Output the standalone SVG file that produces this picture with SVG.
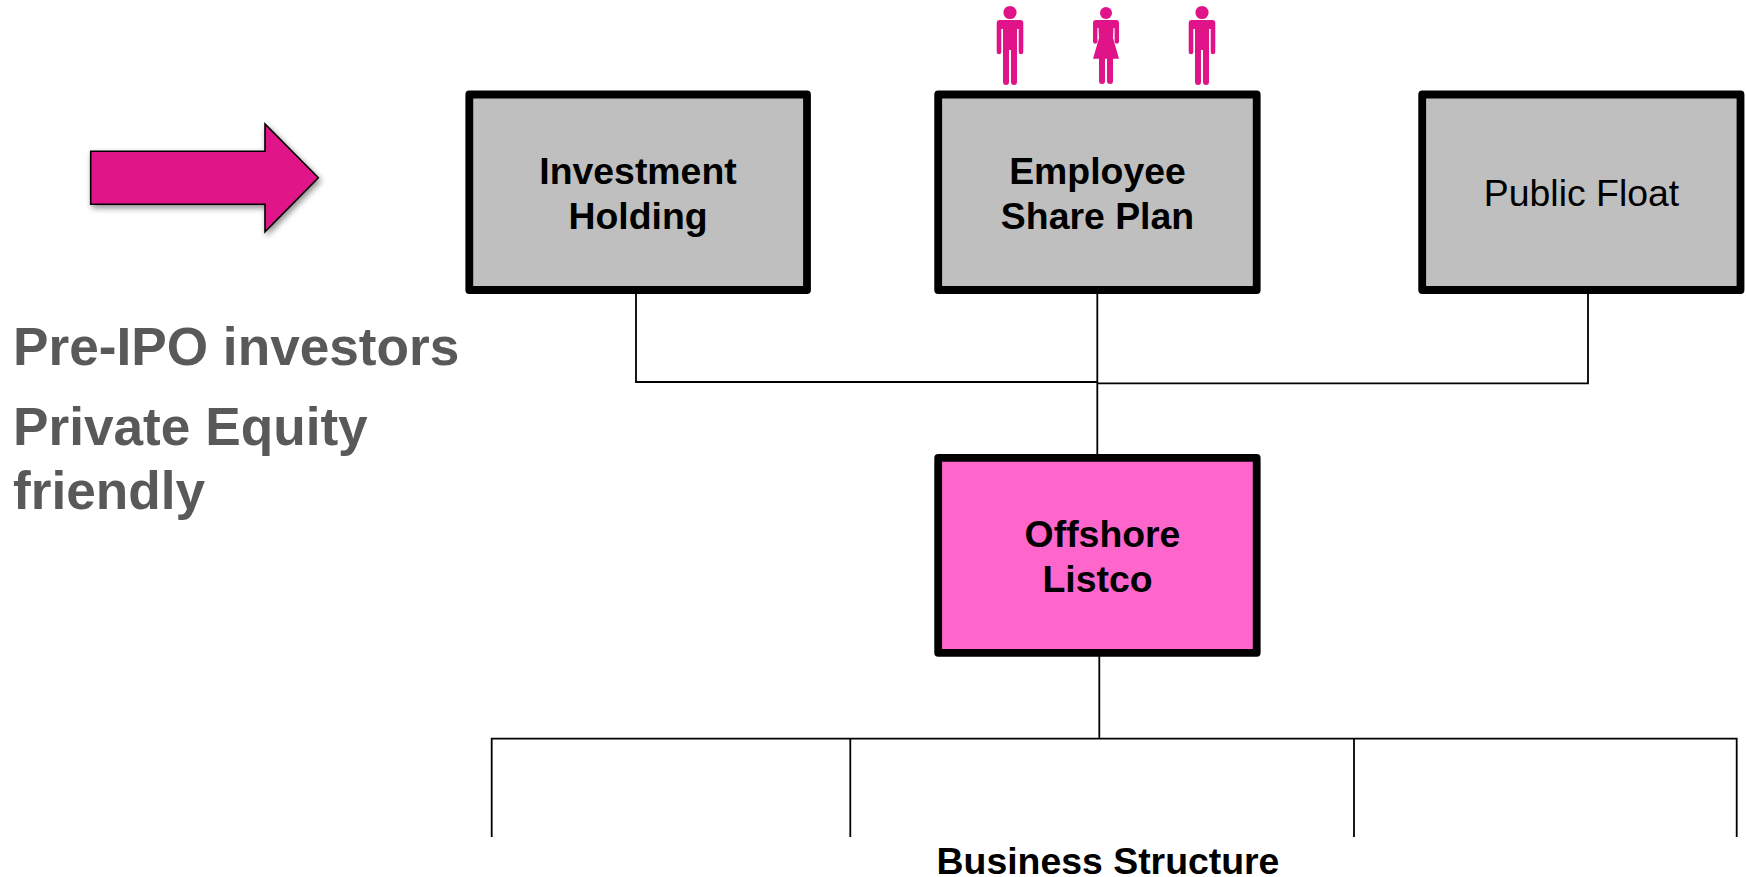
<svg xmlns="http://www.w3.org/2000/svg" width="1746" height="877" viewBox="0 0 1746 877">
<style>
.box{stroke:#000;stroke-width:7.8;stroke-linejoin:round}
.gray{fill:#BFBFBF}
.pink{fill:#FF66CC}
.lbl{font-family:"Liberation Sans",Arial,sans-serif;font-size:37.4px;fill:#000;text-anchor:middle}
.b{font-weight:bold}
.side{font-family:"Liberation Sans",Arial,sans-serif;font-weight:bold;font-size:53.2px;fill:#595959}
.conn{fill:none;stroke:#000;stroke-width:1.8}
.person{fill:#E01488}
</style>
<defs>
<filter id="sh" x="-10%" y="-10%" width="125%" height="130%"><feGaussianBlur in="SourceAlpha" stdDeviation="3"/><feOffset dx="1.5" dy="3"/><feComponentTransfer><feFuncA type="linear" slope="0.45"/></feComponentTransfer><feMerge><feMergeNode/><feMergeNode in="SourceGraphic"/></feMerge></filter>
<g id="man" class="person"><circle cx="0" cy="12.5" r="6.6"/><path d="M-10.3,20H10.3Q13.3,20 13.3,23V52a2.3,2.3 0 0 1 -4.6,0V29H7V82a3,3 0 0 1 -6,0V50H-1V82a3,3 0 0 1 -6,0V29H-8.7V52a2.3,2.3 0 0 1 -4.6,0V23Q-13.3,20 -10.3,20Z"/></g>
<g id="woman" class="person"><circle cx="0" cy="13" r="6"/><path d="M-10,20H10Q13,20 13,23V42a2.3,2.3 0 0 1 -4.4,0V28H7.5L7,38L13,58.7H7V81a3,3 0 0 1 -6,0V58.7H-1V81a3,3 0 0 1 -6,0V58.7H-13L-7,38L-7.5,28H-8.6V42a2.3,2.3 0 0 1 -4.4,0V23Q-13,20 -10,20Z"/></g>
</defs>
<rect width="1746" height="877" fill="#fff"/>
<g id="connectors">
<path class="conn" d="M636,294V382H1097.3"/>
<path class="conn" d="M1097.3,294V455"/>
<path class="conn" d="M1098,383.3H1588V294"/>
<path class="conn" d="M1099.3,656V738.7"/>
<path class="conn" d="M491.7,837V738.7H1736.7V837"/>
<path class="conn" d="M850.3,738.7V837"/>
<path class="conn" d="M1354,738.7V837"/>
</g>
<g id="arrow"><polygon points="90.7,151.3 265,151.3 265,124 318.3,177.7 265,231.7 265,204.3 90.7,204.3" fill="#E01488" stroke="#000" stroke-width="1.6" filter="url(#sh)"/></g>
<g id="side-text">
<text class="side" x="13" y="365">Pre-IPO investors</text>
<text class="side" x="13" y="445">Private Equity</text>
<text class="side" x="13" y="509">friendly</text>
</g>
<g id="person-1"><use href="#man" x="1010"/></g>
<g id="person-2"><use href="#woman" x="1106"/></g>
<g id="person-3"><use href="#man" x="1202"/></g>
<g id="investment-holding"><rect class="box gray" x="469.3" y="94.5" width="337.7" height="195.5"/><text class="lbl b" x="638" y="184">Investment</text><text class="lbl b" x="638" y="229">Holding</text></g>
<g id="employee-share-plan"><rect class="box gray" x="938.2" y="94.5" width="318.5" height="195.5"/><text class="lbl b" x="1097.5" y="184">Employee</text><text class="lbl b" x="1097.5" y="229">Share Plan</text></g>
<g id="public-float"><rect class="box gray" x="1422.2" y="94.5" width="318.3" height="195.5"/><text class="lbl" x="1581.5" y="206">Public Float</text></g>
<g id="offshore-listco"><rect class="box pink" x="938.2" y="457.8" width="318.5" height="195"/><text class="lbl b" x="1102.5" y="547">Offshore</text><text class="lbl b" x="1097.5" y="592">Listco</text></g>
<g id="business-structure"><text class="lbl b" x="1108" y="874">Business Structure</text></g>
</svg>
